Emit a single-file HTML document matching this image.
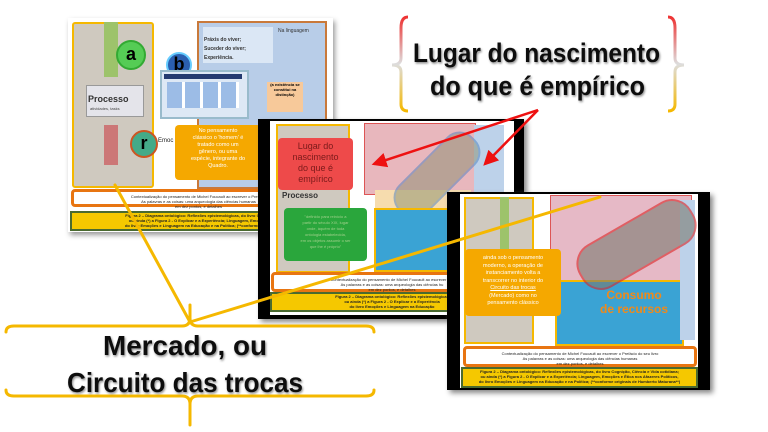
<!DOCTYPE html>
<html><head><meta charset="utf-8"><style>
body{margin:0;width:768px;height:432px;background:#fff;position:relative;overflow:hidden;font-family:"Liberation Sans",sans-serif}
.a{position:absolute}
.t{font-size:4px;text-align:center;line-height:5px;color:#222}
</style></head><body>

<!-- Slide 1 -->
<div class="a" style="left:68px;top:18px;width:265px;height:214px;background:#fff;box-shadow:2px 3px 5px #999"></div>
<div class="a" style="left:72px;top:22px;width:78px;height:162px;background:#cfc9bf;border:2px solid #f5b800;border-radius:3px"></div>
<div class="a" style="left:104px;top:22px;width:14px;height:55px;background:#9dc36b"></div>
<div class="a" style="left:104px;top:125px;width:14px;height:40px;background:#c77"></div>
<div class="a" style="left:86px;top:85px;width:56px;height:30px;background:#e4e4ea;border:1px solid #999"></div>
<div class="a" style="left:88px;top:94px;font-size:9px;font-weight:bold;color:#333">Processo</div>
<div class="a" style="left:90px;top:106px;font-size:4px;color:#444">atividades, tasks</div>
<div class="a" style="left:116px;top:40px;width:26px;height:26px;border-radius:50%;background:#5c5;border:2px solid #3a3;font-size:18px;font-weight:bold;line-height:24px;text-align:center">a</div>
<div class="a" style="left:130px;top:130px;width:24px;height:24px;border-radius:50%;background:#4a8;border:2px solid #c52;font-size:18px;font-weight:bold;line-height:22px;text-align:center">r</div>
<div class="a" style="left:197px;top:21px;width:126px;height:164px;background:#b8cde8;border:2px solid #c9793a"></div>
<div class="a" style="left:203px;top:27px;width:70px;height:36px;background:#dbe7f5"></div>
<div class="a" style="left:204px;top:36px;font-size:5px;line-height:9px;font-weight:bold;color:#333">Práxis do viver;<br>Suceder do viver;<br>Experiência.</div>
<div class="a" style="left:278px;top:28px;font-size:5px;color:#333">Na linguagem</div>
<div class="a" style="left:166px;top:52px;width:22px;height:22px;border-radius:50%;background:#2b5fb0;border:2px solid #6cf;font-size:18px;font-weight:bold;line-height:20px;text-align:center">b</div>
<div class="a" style="left:160px;top:70px;width:85px;height:45px;background:#dde8f5;border:2px solid #9bc"></div>
<div class="a" style="left:164px;top:74px;width:78px;height:5px;background:#243a70"></div>
<div class="a" style="left:167px;top:82px;width:72px;height:26px;background:repeating-linear-gradient(90deg,#9cbce6 0 15px,#fff 15px 18px)"></div>
<div class="a" style="left:267px;top:82px;width:36px;height:30px;background:#f7c99a;font-size:4px;text-align:center;font-weight:bold">(a existência se constitui na distinção)</div>
<div class="a" style="left:175px;top:125px;width:86px;height:55px;background:#f5a800;border-radius:4px;color:#fff;font-size:5.5px;line-height:7px;text-align:center;padding-top:3px;box-sizing:border-box">No pensamento<br>clássico o 'homem' é<br>tratado como um<br>gênero, ou uma<br>espécie, integrante do<br>Quadro.</div>
<div class="a" style="left:158px;top:138px;font-size:6px;color:#222">Emoc</div>
<div class="a t" style="left:71px;top:189px;width:255px;height:18px;border:3px solid #e87511;border-radius:4px;background:#fff;box-sizing:border-box;padding-top:2px">Contextualização do pensamento de Michel Foucault ao escrever o Prefácio<br>As palavras e as coisas: uma arqueologia das ciências humanas<br>em dez pontos, e detalhes</div>
<div class="a t" style="left:70px;top:211px;width:260px;height:20px;background:#f5c800;border:2px solid #4a6a30;box-sizing:border-box;font-weight:bold">Figura 2 – Diagrama ontológico: Reflexões epistemológicas, do livro Cognição<br>ou ainda (*) a Figura 2 - O Explicar e a Experiência; Linguagem, Emoções e<br>do livro Emoções e Linguagem na Educação e na Política; (**conforme original</div>

<!-- Slide 2 -->
<div class="a" style="left:258px;top:119px;width:266px;height:200px;background:#000;box-shadow:3px 3px 5px #888"></div>
<div class="a" style="left:270px;top:121px;width:244px;height:194px;background:#fff"></div>
<div class="a" style="left:276px;top:124px;width:70px;height:145px;background:#cfc9bf;border:2px solid #f5b800"></div>
<div class="a" style="left:364px;top:123px;width:110px;height:70px;background:#e8b7bd;border:1px solid #d55"></div>
<div class="a" style="left:474px;top:125px;width:30px;height:90px;background:#bdd2ea"></div>
<div class="a" style="left:375px;top:190px;width:96px;height:25px;background:#f6dcae"></div>
<div class="a" style="left:385px;top:155px;width:100px;height:36px;background:#8a8f70;opacity:.5;border-radius:18px;border:2px solid #4a7fc0;transform:rotate(-45deg)"></div>
<div class="a" style="left:374px;top:208px;width:140px;height:60px;background:#3aa3d4;border:2px solid #f5b800"></div>
<div class="a" style="left:278px;top:138px;width:75px;height:52px;background:#ee4a4a;border-radius:4px;color:#7a1a1a;font-size:9px;line-height:11px;text-align:center;padding-top:3px;box-sizing:border-box">Lugar do<br>nascimento<br>do que é<br>empírico</div>
<div class="a" style="left:282px;top:191px;font-size:8px;font-weight:bold;color:#333">Processo</div>
<div class="a" style="left:284px;top:208px;width:83px;height:53px;background:#2aa63c;border-radius:4px;color:#9fd08a;font-size:4px;line-height:6px;text-align:center;padding-top:6px;box-sizing:border-box">"definido para reinício a<br>partir do século XIX, lugar<br>onde, àquém de toda<br>ontologia estabelecida,<br>em os objetos assumir o ser<br>que lhe é próprio"</div>
<div class="a t" style="left:271px;top:272px;width:242px;height:20px;border:3px solid #e87511;border-radius:4px;background:#fff;box-sizing:border-box;padding-top:2px">Contextualização do pensamento de Michel Foucault ao escrever o P<br>As palavras e as coisas: uma arqueologia das ciências hu<br>em dez pontos, e detalhes</div>
<div class="a t" style="left:270px;top:292px;width:244px;height:20px;background:#f5c800;border:2px solid #4a6a30;box-sizing:border-box;font-weight:bold">Figura 2 – Diagrama ontológico: Reflexões epistemológicas<br>ou ainda (*) a Figura 2 - O Explicar e a Experiência<br>do livro Emoções e Linguagem na Educação</div>

<!-- Slide 3 -->
<div class="a" style="left:447px;top:192px;width:263px;height:198px;background:#000;box-shadow:3px 3px 5px #888"></div>
<div class="a" style="left:460px;top:194px;width:238px;height:194px;background:#fff"></div>
<div class="a" style="left:464px;top:197px;width:70px;height:147px;background:#cfc9bf;border:2px solid #f5b800;box-sizing:border-box"></div>
<div class="a" style="left:500px;top:197px;width:9px;height:80px;background:#9dc36b"></div>
<div class="a" style="left:550px;top:195px;width:140px;height:85px;background:#e6b9c6;border:1px solid #d55"></div>
<div class="a" style="left:555px;top:280px;width:125px;height:62px;background:#3aa3d4;border:2px solid #f5b800"></div>
<div class="a" style="left:680px;top:200px;width:15px;height:140px;background:#bdd2ea"></div>
<div class="a" style="left:572px;top:220px;width:125px;height:45px;background:#7b7a70;opacity:.6;border-radius:22px;border:2px solid #d22;transform:rotate(-30deg)"></div>
<div class="a" style="left:600px;top:288px;font-size:12px;font-weight:bold;color:#f08a1a;line-height:14px;text-align:center">Consumo<br>de recursos</div>
<div class="a" style="left:465px;top:249px;width:96px;height:67px;background:#f5a800;border-radius:4px;color:#fff;font-size:5.5px;line-height:7.5px;text-align:center;padding-top:6px;box-sizing:border-box">ainda sob o pensamento<br>moderno, a operação de<br>instanciamento volta a<br>transcorrer no interior do<br><u>Circuito das trocas</u><br>(Mercado) como no<br>pensamento clássico</div>
<div class="a t" style="left:463px;top:346px;width:234px;height:21px;border:3px solid #e87511;border-radius:4px;background:#fff;box-sizing:border-box;padding-top:2px">Contextualização do pensamento de Michel Foucault ao escrever o Prefácio do seu livro<br>As palavras e as coisas: uma arqueologia das ciências humanas<br>em dez pontos, e detalhes</div>
<div class="a t" style="left:461px;top:367px;width:237px;height:21px;background:#f5c800;border:2px solid #4a6a30;box-sizing:border-box;font-weight:bold">Figura 2 – Diagrama ontológico: Reflexões epistemológicas, do livro Cognição, Ciência e Vida cotidiana;<br>ou ainda (*) a Figura 2 - O Explicar e a Experiência; Linguagem, Emoções e Ética nos Afazeres Políticos,<br>do livro Emoções e Linguagem na Educação e na Política; (**conforme originais de Humberto Maturana**)</div>

<!-- Overlay lines -->
<svg class="a" style="left:0;top:0" width="768" height="432">
<defs>
<marker id="rh" markerWidth="6" markerHeight="6" refX="5" refY="3" orient="auto"><path d="M0,0L6,3L0,6z" fill="#e11"/></marker>
<linearGradient id="gb" x1="0" y1="0" x2="0" y2="1"><stop offset="0" stop-color="#e33"/><stop offset=".5" stop-color="#ddd"/><stop offset="1" stop-color="#f5b800"/></linearGradient>
<filter id="sh" x="-5%" y="-20%" width="110%" height="140%"><feDropShadow dx="1" dy="1.5" stdDeviation="1" flood-color="#000" flood-opacity=".45"/></filter>
</defs>
<g stroke="#f5b800" stroke-width="3" fill="none" stroke-linecap="round">
<line x1="190" y1="322" x2="115" y2="185"/>
<line x1="190" y1="322" x2="600" y2="197"/>
<path d="M6,332 Q6,326 14,326 L182,326 Q190,326 190,318 Q190,326 198,326 L366,326 Q374,326 374,332"/>
<line x1="190" y1="305" x2="190" y2="318"/>
<path d="M6,390 Q6,396 14,396 L182,396 Q190,396 190,404 Q190,396 198,396 L366,396 Q374,396 374,390"/>
<line x1="190" y1="404" x2="190" y2="425"/>
</g>
<g stroke="url(#gb)" stroke-width="3" fill="none">
<path d="M408,17 Q401,17 401,28 L401,58 Q401,65 392,65 Q401,65 401,72 L401,104 Q401,111 408,111"/>
<path d="M668,17 Q675,17 675,28 L675,58 Q675,65 684,65 Q675,65 675,72 L675,104 Q675,111 668,111"/>
</g>
<g stroke="#e11" stroke-width="2.5" fill="none" marker-end="url(#rh)">
<line x1="538" y1="110" x2="374" y2="164"/>
<line x1="538" y1="110" x2="485" y2="164"/>
</g>
<g font-family="Liberation Sans" font-weight="bold" fill="#111" filter="url(#sh)" font-size="27">
<text x="413" y="62" textLength="247" lengthAdjust="spacingAndGlyphs">Lugar do nascimento</text>
<text x="430" y="95" textLength="215" lengthAdjust="spacingAndGlyphs">do que é empírico</text>
<text x="103" y="355" textLength="164" lengthAdjust="spacingAndGlyphs" font-size="28">Mercado, ou</text>
<text x="67" y="392" textLength="236" lengthAdjust="spacingAndGlyphs" font-size="28">Circuito das trocas</text>
</g>
</svg>
</body></html>
